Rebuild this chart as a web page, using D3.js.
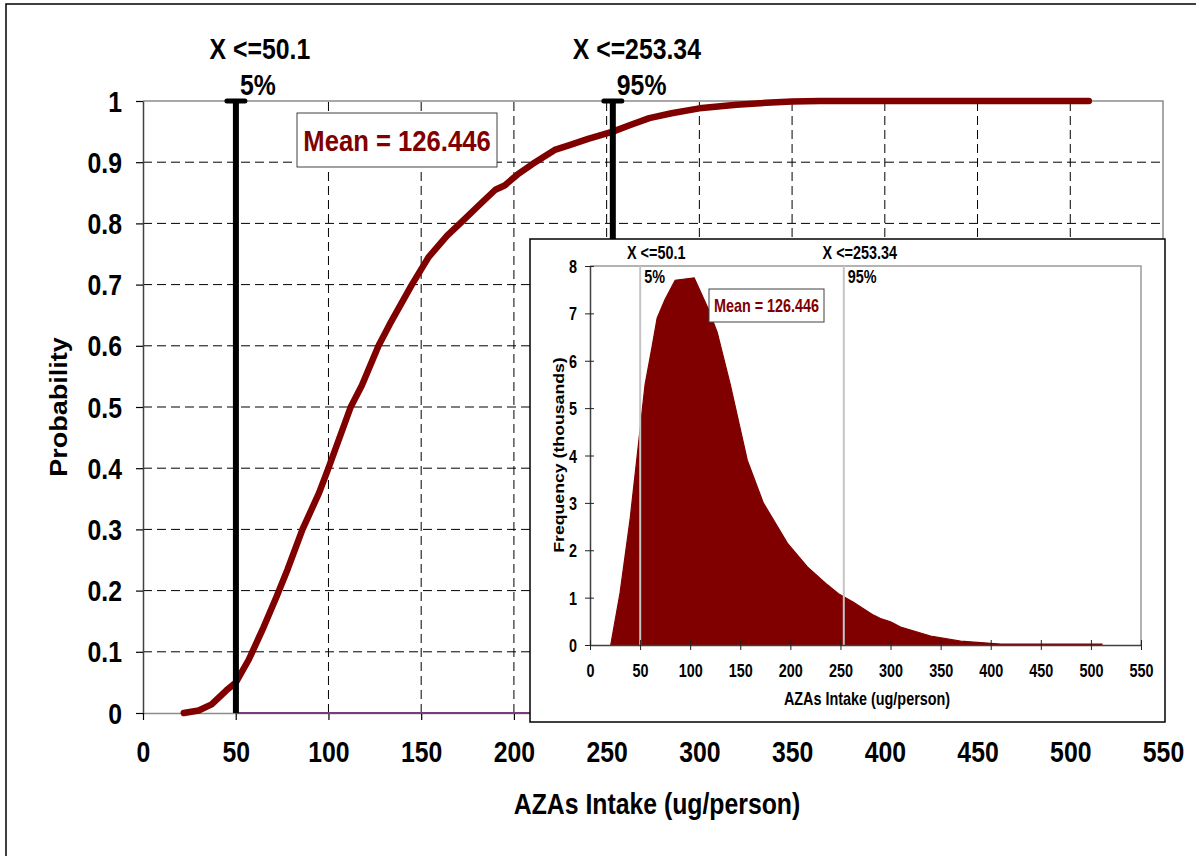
<!DOCTYPE html>
<html>
<head>
<meta charset="utf-8">
<script src="https://cdn.jsdelivr.net/npm/d3@7"></script>
<style>
  body { margin: 0; background: #fff; }
  svg { display: block; }
  text { font-family: "Liberation Sans", Arial, Helvetica, sans-serif; font-weight: bold; }
</style>
</head>
<body>
<svg id="chart"></svg>
<script>
// cumulative probability curve
const cdfX = [22, 30, 37, 45, 50.1, 57, 65, 72, 78, 86, 95, 100, 112, 118, 127, 133, 145, 154, 164, 171,
              183, 190, 195, 202, 210, 222, 230, 240, 253.34, 262, 273, 285, 300, 320, 336, 350, 365, 400, 450, 510];
const cdfP = [0, 0.004, 0.014, 0.037, 0.05, 0.087, 0.14, 0.19, 0.235, 0.30, 0.36, 0.40, 0.50, 0.535, 0.60, 0.635, 0.70, 0.745, 0.78, 0.80,
              0.835, 0.855, 0.862, 0.88, 0.897, 0.92, 0.928, 0.938, 0.95, 0.96, 0.972, 0.98, 0.988, 0.994, 0.997, 0.999, 1, 1, 1, 1];

// frequency histogram of the inset (thousands)
const histX = [20.7, 30, 40, 50, 55, 62, 67, 75, 85, 104, 118, 127, 140, 157, 173, 197, 217, 237, 248, 263,
               283, 290, 300, 310, 340, 370, 400, 410, 511];
const histF = [0, 1.1, 2.65, 4.55, 5.5, 6.3, 6.9, 7.3, 7.7, 7.75, 7.1, 6.6, 5.5, 3.9, 3.0, 2.15, 1.65, 1.27, 1.08, 0.9,
               0.63, 0.56, 0.49, 0.38, 0.19, 0.08, 0.035, 0.02, 0.02];

const pctX = [50.1, 253.34];
const pctLabels = ["5%", "95%"];
const pctTitles = ["X <=50.1", "X <=253.34"];
const meanLabel = "Mean = 126.446";

const xTicks = [0, 50, 100, 150, 200, 250, 300, 350, 400, 450, 500, 550];
const yTicks = [0, 0.1, 0.2, 0.3, 0.4, 0.5, 0.6, 0.7, 0.8, 0.9, 1];
const freqTicks = [0, 1, 2, 3, 4, 5, 6, 7, 8];

const xTitle = "AZAs Intake (ug/person)";
const yTitle = "Probability";
const freqTitle = "Frequency (thousands)";

const W = 1196, H = 856;
const red = "#800000";
const mainSize = 29, mainSx = 0.855;
const insetSize = 18, insetSx = 0.8;

const svg = d3.select("#chart").attr("width", W).attr("height", H);

// text with a horizontal squeeze like the original picture
function label(g, str, px, py, size, sx, anchor, color) {
    return g.append("text")
        .attr("transform", `translate(${px},${py}) scale(${sx},1)`)
        .attr("font-size", size)
        .attr("text-anchor", anchor || "start")
        .attr("fill", color || "#000")
        .text(str);
}

// outer frame
svg.append("rect")
    .attr("x", 6).attr("y", 4).attr("width", W + 20).attr("height", H + 20)
    .attr("fill", "none").attr("stroke", "#000").attr("stroke-width", 1.5);

// ---------- main chart ----------
let x = d3.scaleLinear().domain([0, 550]).range([143, 1163]);
let y = d3.scaleLinear().domain([0, 1]).range([713, 101]);

let grid = svg.append("g");
grid.selectAll(".vg").data(xTicks.filter(d => d > 0 && d < 550)).join("line")
    .attr("x1", d => x(d)).attr("x2", d => x(d))
    .attr("y1", y(0)).attr("y2", y(1))
    .attr("stroke", "#000").attr("stroke-dasharray", "9,5");
grid.selectAll(".hg").data(yTicks.filter(d => d > 0 && d < 1)).join("line")
    .attr("x1", x(0)).attr("x2", x(550))
    .attr("y1", d => y(d)).attr("y2", d => y(d))
    .attr("stroke", "#000").attr("stroke-dasharray", "9,5");

// plot border (top, right)
svg.append("path")
    .attr("d", `M${x(0)},${y(1)}H${x(550)}V${y(0)}`)
    .attr("fill", "none").attr("stroke", "#8c8c8c").attr("stroke-width", 1.5);

let axL = svg.append("g").attr("transform", `translate(${x(0)},0)`)
    .call(d3.axisLeft(y).tickValues(yTicks).tickSize(7).tickSizeOuter(0).tickFormat(d3.format("~g")));
axL.attr("font-size", null).attr("font-family", null);
axL.select(".domain").attr("stroke", "#404040").attr("stroke-width", 1.5);
axL.selectAll(".tick line").attr("stroke", "#000").attr("stroke-width", 1.2);
axL.selectAll(".tick text")
    .attr("x", null).attr("dy", null).attr("fill", "#000").attr("font-size", mainSize)
    .attr("transform", `translate(-21,10) scale(${mainSx},1)`);

let axB = svg.append("g").attr("transform", `translate(0,${y(0)})`)
    .call(d3.axisBottom(x).tickValues(xTicks).tickSize(7).tickSizeOuter(0));
axB.attr("font-size", null).attr("font-family", null);
axB.select(".domain").attr("stroke", "#8c8c8c").attr("stroke-width", 1.5);
axB.selectAll(".tick line").attr("stroke", "#000").attr("stroke-width", 1.2);
axB.selectAll(".tick text")
    .attr("y", null).attr("dy", null).attr("fill", "#000").attr("font-size", mainSize)
    .attr("transform", `translate(0,49) scale(${mainSx},1)`);

// thin purple series along zero
svg.append("line")
    .attr("x1", x(pctX[0])).attr("x2", x(550)).attr("y1", y(0)).attr("y2", y(0))
    .attr("stroke", "#7a3b7a").attr("stroke-width", 2);

// cumulative curve
let lineGen = d3.line().x(d => x(d[0])).y(d => y(d[1]));
svg.append("path")
    .attr("d", lineGen(d3.zip(cdfX, cdfP)))
    .attr("fill", "none").attr("stroke", red).attr("stroke-width", 6.5)
    .attr("stroke-linejoin", "round").attr("stroke-linecap", "round");

// percentile markers
pctX.forEach(function(v, i) {
    svg.append("line")
        .attr("x1", x(v)).attr("x2", x(v)).attr("y1", y(1)).attr("y2", y(0))
        .attr("stroke", "#000").attr("stroke-width", 6);
    svg.append("line")
        .attr("x1", x(v) - 9).attr("x2", x(v) + 9).attr("y1", y(1)).attr("y2", y(1))
        .attr("stroke", "#000").attr("stroke-width", 5).attr("stroke-linecap", "round");
    label(svg, pctTitles[i], x(v) + 24, 59, mainSize, mainSx, "middle");
    label(svg, pctLabels[i], x(v) + 4, 95, mainSize, mainSx, "start");
});

// mean box
svg.append("rect")
    .attr("x", 297).attr("y", 113).attr("width", 200).attr("height", 54)
    .attr("fill", "#fff").attr("stroke", "#404040").attr("stroke-width", 1);
label(svg, meanLabel, 397, 151, 30, 0.855, "middle", red);

// axis titles
label(svg, xTitle, 657, 814, mainSize, mainSx, "middle");
svg.append("text")
    .attr("transform", "translate(67,407) rotate(-90) scale(1,0.92)")
    .attr("font-size", 27).attr("text-anchor", "middle").attr("fill", "#000")
    .text(yTitle);

// ---------- inset histogram ----------
let inset = svg.append("g");
inset.append("rect")
    .attr("x", 530).attr("y", 239).attr("width", 635).attr("height", 483)
    .attr("fill", "#fff").attr("stroke", "#000").attr("stroke-width", 1.5);

let ix = d3.scaleLinear().domain([0, 550]).range([590, 1141]);
let iy = d3.scaleLinear().domain([0, 8]).range([645, 266]);

let areaGen = d3.area().x(d => ix(d[0])).y0(iy(0)).y1(d => iy(d[1]));
inset.append("path")
    .attr("d", areaGen(d3.zip(histX, histF)))
    .attr("fill", red).attr("stroke", red).attr("stroke-width", 1.2);

inset.append("path")
    .attr("d", `M${ix(0)},${iy(8)}H${ix(550)}V${iy(0)}`)
    .attr("fill", "none").attr("stroke", "#9a9a9a").attr("stroke-width", 1.5);

pctX.forEach(function(v, i) {
    inset.append("line")
        .attr("x1", ix(v)).attr("x2", ix(v)).attr("y1", iy(8)).attr("y2", iy(0))
        .attr("stroke", "#c4c4c4").attr("stroke-width", 2);
    label(inset, pctTitles[i], ix(v) + 16, 259, insetSize, insetSx, "middle");
    label(inset, pctLabels[i], ix(v) + 4, 283, insetSize, insetSx, "start");
});

let iaxL = inset.append("g").attr("transform", `translate(${ix(0)},0)`)
    .call(d3.axisLeft(iy).tickValues(freqTicks).tickSize(5).tickSizeOuter(0));
iaxL.attr("font-size", null).attr("font-family", null);
iaxL.select(".domain").attr("stroke", "#404040").attr("stroke-width", 1.5);
iaxL.selectAll(".tick line").attr("x1", 4).attr("stroke", "#222");
iaxL.selectAll(".tick text")
    .attr("x", null).attr("dy", null).attr("fill", "#000").attr("font-size", insetSize)
    .attr("transform", `translate(-13,6.5) scale(${insetSx},1)`);

let iaxB = inset.append("g").attr("transform", `translate(0,${iy(0)})`)
    .call(d3.axisBottom(ix).tickValues(xTicks).tickSize(5).tickSizeOuter(0));
iaxB.attr("font-size", null).attr("font-family", null);
iaxB.select(".domain").attr("stroke", "#404040").attr("stroke-width", 1.5);
iaxB.selectAll(".tick line").attr("y1", -5).attr("stroke", "#222");
iaxB.selectAll(".tick text")
    .attr("y", null).attr("dy", null).attr("fill", "#000").attr("font-size", insetSize)
    .attr("transform", `translate(0,32) scale(${insetSx},1)`);

// inset mean box
inset.append("rect")
    .attr("x", 709).attr("y", 289).attr("width", 115).attr("height", 33)
    .attr("fill", "#fff").attr("stroke", "#404040").attr("stroke-width", 1);
label(inset, meanLabel, 766.5, 312, insetSize, insetSx, "middle", red);

// inset titles
label(inset, xTitle, 867, 705, insetSize, insetSx, "middle");
inset.append("text")
    .attr("transform", "translate(564,455) rotate(-90) scale(1,0.85)")
    .attr("font-size", 17.7).attr("text-anchor", "middle").attr("fill", "#000")
    .text(freqTitle);
</script>
</body>
</html>
